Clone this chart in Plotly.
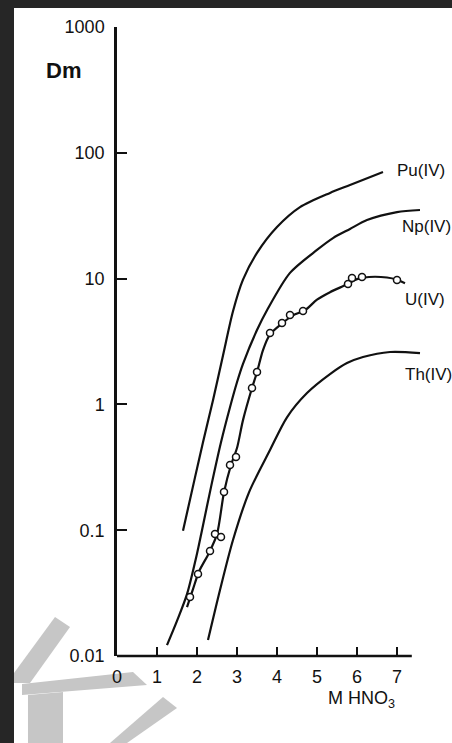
import math
import plotly.graph_objects as go

# ---------------- data ----------------
pu_x = [1.65, 1.95, 2.15, 2.4, 2.65, 2.9, 3.15, 3.5, 4.0, 4.575, 5.325, 5.825, 6.65]
pu_y = [0.099, 0.263, 0.5, 1.08, 2.45, 5.5, 9.8, 16.0, 25.7, 37.0, 48.0, 55.5, 70.4]

np_x = [1.25, 1.5, 1.75, 2.0, 2.125, 2.35, 2.6, 2.825, 3.0, 3.15, 3.5, 3.75, 4.325, 5.0, 5.4,
        5.825, 6.25, 7.0, 7.575]
np_y = [0.0122, 0.019, 0.031, 0.065, 0.1, 0.22, 0.5, 0.95, 1.5, 2.1, 3.9, 5.6, 11.1, 16.9, 21.0,
        24.8, 29.2, 33.8, 35.1]

u_line_x = [1.75, 1.9, 2.05, 2.3, 2.5, 2.675, 2.85, 3.0, 3.15, 3.375, 3.5, 3.65, 3.825, 4.125,
            4.4, 4.7, 5.0, 5.325, 5.75, 6.0, 6.3, 6.75, 7.0, 7.2]
u_line_y = [0.0245, 0.034, 0.047, 0.066, 0.093, 0.2, 0.33, 0.45, 0.75, 1.35, 1.8, 2.7, 3.6, 4.4,
            5.1, 5.6, 6.8, 7.8, 9.0, 9.9, 10.3, 10.2, 9.8, 9.2]

u_pts_x = [1.825, 2.025, 2.325, 2.45, 2.6, 2.675, 2.825, 2.975, 3.375, 3.5, 3.825, 4.125,
           4.325, 4.65, 5.775, 5.875, 6.125, 7.0]
u_pts_y = [0.0294, 0.0449, 0.0684, 0.0933, 0.0883, 0.201, 0.33, 0.382, 1.35, 1.81, 3.7, 4.44,
           5.14, 5.53, 9.06, 10.1, 10.3, 9.75]

th_x = [2.275, 2.575, 2.9, 3.3, 3.825, 4.25, 4.75, 5.325, 5.75, 6.15, 6.825, 7.575]
th_y = [0.0134, 0.0335, 0.0836, 0.2, 0.434, 0.79, 1.23, 1.74, 2.13, 2.38, 2.61, 2.56]

series_names = ["Pu(IV)", "Np(IV)", "U(IV)", "Th(IV)"]

x_tickvals = [0, 1, 2, 3, 4, 5, 6, 7]
x_ticktext = ["0", "1", "2", "3", "4", "5", "6", "7"]
y_tickvals = [0.01, 0.1, 1, 10, 100, 1000]
y_ticktext = ["0.01", "0.1", "1", "10", "100", "1000"]

x_axis_end = 7.37
x_range = [0, 7.7]
y_range_log = [-2, 3]

# ---------------- layout geometry ----------------
W, H = 452, 743
ML, MT, MB = 117, 27, 87
PW = 308
MR = W - ML - PW
PH = H - MT - MB

def px(xp):
    return (xp - ML) / PW

def py(yp):
    return (H - MB - yp) / PH

FONT = "Liberation Sans, Arial, sans-serif"
INK = "#111111"

fig = go.Figure()

line_style = dict(color=INK, width=2.2, shape="spline", smoothing=0.8)
fig.add_trace(go.Scatter(x=pu_x, y=pu_y, mode="lines", line=line_style, name=series_names[0]))
fig.add_trace(go.Scatter(x=np_x, y=np_y, mode="lines", line=line_style, name=series_names[1]))
fig.add_trace(go.Scatter(x=u_line_x, y=u_line_y, mode="lines", line=line_style, name=series_names[2]))
fig.add_trace(go.Scatter(x=th_x, y=th_y, mode="lines", line=line_style, name=series_names[3]))
fig.add_trace(go.Scatter(x=u_pts_x, y=u_pts_y, mode="markers", name=series_names[2] + " data",
                         marker=dict(symbol="circle", size=7, color="white",
                                     line=dict(color=INK, width=1.5))))

shapes = []
# white page on dark background
shapes.append(dict(type="rect", xref="paper", yref="paper", layer="below",
                   x0=px(14), x1=px(W + 5), y0=py(H + 5), y1=py(8),
                   fillcolor="white", line=dict(width=0)))
# watermark (light grey strokes, lower left)
wm = "#c6c6c6"
def poly(points):
    d = "M " + " L ".join(f"{px(a):.4f},{py(b):.4f}" for a, b in points) + " Z"
    return dict(type="path", xref="paper", yref="paper", layer="below", path=d,
                fillcolor=wm, line=dict(width=0))
shapes.append(poly([(55, 617), (70, 627), (30, 683), (14, 683), (14, 673)]))
shapes.append(poly([(22, 684), (133, 672), (147, 685), (22, 695)]))
shapes.append(poly([(28, 695), (63, 692), (63, 743), (28, 743)]))
shapes.append(poly([(163, 697), (177, 708), (127, 743), (110, 743)]))
# x axis line (stops short of the plot's right edge)
shapes.append(dict(type="line", xref="x", yref="paper", x0=0, x1=x_axis_end, y0=0, y1=0,
                   line=dict(color=INK, width=2.5)))
fig.update_layout(shapes=shapes)

ann = []
label_pos = [(6.95, 72.0), (7.08, 26.0), (7.15, 6.8), (7.15, 1.72)]
for name, (lx, ly) in zip(series_names, label_pos):
    ann.append(dict(x=lx, y=math.log10(ly), xref="x", yref="y", text=name, showarrow=False,
                    xanchor="left", yanchor="middle", font=dict(family=FONT, size=17, color=INK)))
ann.append(dict(x=px(63), y=py(70), xref="paper", yref="paper", text="<b>Dm</b>", showarrow=False,
                xanchor="center", yanchor="middle", font=dict(family=FONT, size=22, color=INK)))
ann.append(dict(x=px(326), y=py(699), xref="paper", yref="paper", text="M HNO<sub>3</sub>",
                showarrow=False, xanchor="left", yanchor="middle",
                font=dict(family=FONT, size=18, color=INK)))
fig.update_layout(annotations=ann)

fig.update_xaxes(range=x_range, tickvals=x_tickvals, ticktext=x_ticktext, ticks="inside",
                 ticklen=9, tickwidth=2, tickcolor=INK, showline=False, showgrid=False,
                 zeroline=False, ticklabelstandoff=8,
                 tickfont=dict(family=FONT, size=18, color=INK))
fig.update_yaxes(type="log", range=y_range_log, tickvals=y_tickvals, ticktext=y_ticktext,
                 ticks="inside", ticklen=10, tickwidth=2, tickcolor=INK, showline=True,
                 linecolor=INK, linewidth=2.5, showgrid=False, zeroline=False,
                 ticklabelstandoff=6, tickfont=dict(family=FONT, size=18, color=INK))

fig.update_layout(width=W, height=H, margin=dict(l=ML, r=MR, t=MT, b=MB, pad=0),
                  paper_bgcolor="#262626", plot_bgcolor="rgba(0,0,0,0)", showlegend=False)

fig.write_html("out.html", config={"displayModeBar": False},
               post_script="document.body.style.margin='0';document.body.style.overflow='hidden';")
